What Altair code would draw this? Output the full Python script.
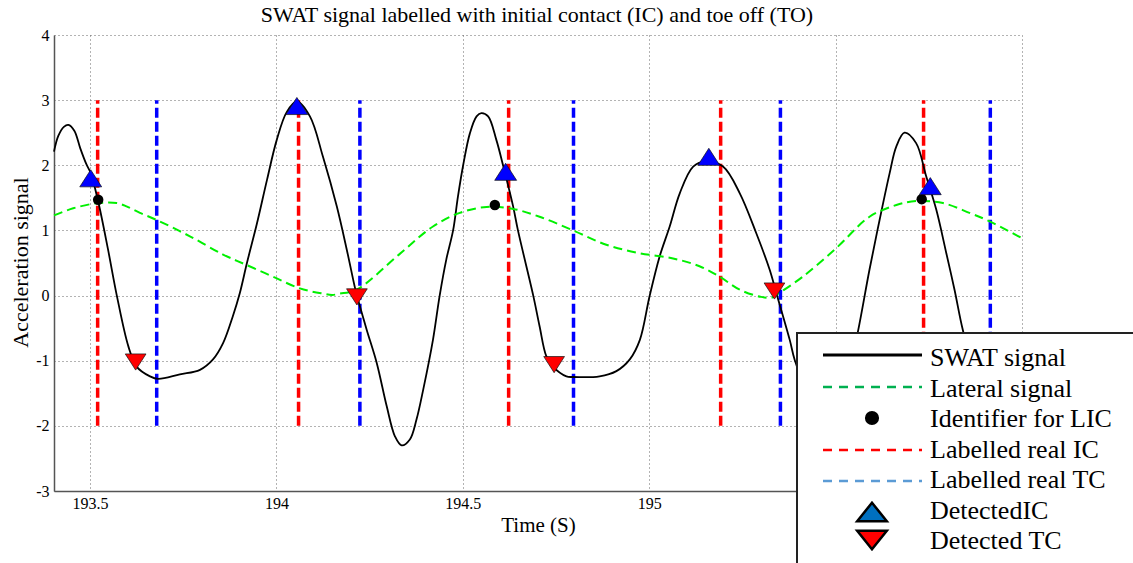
import altair as alt
import pandas as pd

# ---------------- data ----------------
swat_t = [193.4035, 193.415, 193.430, 193.442, 193.458, 193.474, 193.490, 193.502, 193.521, 193.548,
          193.572, 193.603, 193.625, 193.661, 193.683, 193.741, 193.795, 193.830, 193.857, 193.883,
          193.902, 193.921, 193.948, 193.975, 194.001, 194.028, 194.055, 194.090, 194.125, 194.162,
          194.189, 194.210, 194.216, 194.242, 194.269, 194.296, 194.318, 194.336, 194.358, 194.376,
          194.394, 194.420, 194.438, 194.456, 194.474, 194.487, 194.501, 194.519, 194.537, 194.550,
          194.568, 194.590, 194.608, 194.635, 194.648, 194.689, 194.706, 194.724, 194.742, 194.778,
          194.796, 194.867, 194.912, 194.948, 194.975, 195.001, 195.028, 195.055, 195.082, 195.118,
          195.152, 195.198, 195.243, 195.287, 195.323, 195.341, 195.377, 195.390, 195.430, 195.470,
          195.510, 195.535, 195.560, 195.591, 195.618, 195.645, 195.663, 195.685, 195.716, 195.743,
          195.770, 195.797, 195.819, 195.841, 195.870, 195.920, 195.960, 196.000]
swat_v = [2.21, 2.45, 2.59, 2.62, 2.53, 2.26, 2.02, 1.88, 1.47, 0.72,
          0.00, -0.78, -1.09, -1.24, -1.28, -1.21, -1.14, -0.98, -0.73, -0.32,
          0.04, 0.50, 1.11, 1.78, 2.39, 2.82, 2.98, 2.75, 2.13, 1.37,
          0.70, 0.14, 0.00, -0.52, -1.03, -1.70, -2.16, -2.30, -2.21, -1.90,
          -1.44, -0.68, 0.00, 0.56, 1.00, 1.52, 2.00, 2.49, 2.75, 2.80,
          2.75, 2.39, 2.00, 1.37, 1.00, 0.00, -0.47, -0.93, -1.09, -1.24,
          -1.25, -1.24, -1.16, -0.98, -0.68, -0.01, 0.60, 1.06, 1.57, 1.98,
          2.06, 1.98, 1.57, 0.96, 0.40, 0.04, -0.68, -0.98, -1.55, -1.75,
          -1.55, -1.20, -0.55, 0.40, 1.16, 1.88, 2.29, 2.50, 2.34, 1.83,
          1.32, 0.65, 0.09, -0.52, -1.10, -1.45, -1.35, -1.00]

lat_t = [193.4035, 193.455, 193.522, 193.572, 193.598, 193.634, 193.679, 193.768, 193.857, 193.920,
         193.991, 194.063, 194.125, 194.150, 194.170, 194.215, 194.331, 194.420, 194.492, 194.564,
         194.635, 194.706, 194.796, 194.885, 194.975, 195.064, 195.135, 195.189, 195.243, 195.300,
         195.330, 195.341, 195.412, 195.502, 195.591, 195.663, 195.716, 195.788, 195.859, 195.913,
         196.000]
lat_v = [1.23, 1.34, 1.42, 1.42, 1.37, 1.27, 1.16, 0.91, 0.63, 0.47,
         0.29, 0.11, 0.03, 0.01, 0.03, 0.09, 0.64, 1.06, 1.27, 1.36,
         1.33, 1.21, 1.00, 0.78, 0.65, 0.57, 0.45, 0.29, 0.09, -0.02,
         -0.03, 0.01, 0.29, 0.73, 1.21, 1.39, 1.45, 1.42, 1.27, 1.14,
         0.88]

lic_t = [193.522, 194.586, 195.731]
lic_v = [1.47, 1.39, 1.48]

real_ic_t = [193.5206, 194.0595, 194.6230, 195.1917, 195.7360]
real_tc_t = [193.6790, 194.2240, 194.7970, 195.3520, 195.9150]
label_low, label_high = -2, 3

det_ic_t = [193.502, 194.055, 194.615, 195.160, 195.754]
det_ic_v = [1.80, 2.91, 1.90, 2.13, 1.68]
det_tc_t = [193.6225, 194.2160, 194.7450, 195.3360]
det_tc_v = [-1.02, -0.02, -1.06, 0.07]

# grid at every 0.5 s; the labels of 195.5 and 196 sit behind the legend box in the reference
x_ticks = [193.5, 194, 194.5, 195, 195.5, 196]
x_labelled = [193.5, 194, 194.5, 195]
y_ticks = [-3, -2, -1, 0, 1, 2, 3, 4]
x_domain = [193.4035, 196]
y_domain = [-3, 4]

chart_title = "SWAT signal labelled with initial contact (IC) and toe off (TO)"
legend_labels = ["SWAT signal", "Lateral signal", "Identifier for LIC", "Labelled real IC",
                 "Labelled real TC", "DetectedIC", "Detected TC"]

FONT = "Liberation Serif"

# ---------------- frames ----------------
swat = pd.DataFrame({"t": swat_t, "v": swat_v})
lat = pd.DataFrame({"t": lat_t, "v": lat_v})
lic = pd.DataFrame({"t": lic_t, "v": lic_v})
ric = pd.DataFrame({"t": real_ic_t, "v": [label_low] * len(real_ic_t), "v2": [label_high] * len(real_ic_t)})
rtc = pd.DataFrame({"t": real_tc_t, "v": [label_low] * len(real_tc_t), "v2": [label_high] * len(real_tc_t)})
dic = pd.DataFrame({"t": det_ic_t, "v": det_ic_v})
dtc = pd.DataFrame({"t": det_tc_t, "v": det_tc_v})

xs = alt.Scale(domain=x_domain, nice=False, zero=False)
ys = alt.Scale(domain=y_domain, nice=False, zero=False)

x_label_expr = "indexof(" + str(x_labelled) + ", datum.value) >= 0 ? '' + datum.value : ''"

x_axis = alt.Axis(values=x_ticks, labelExpr=x_label_expr, title="Time (S)",
                  grid=True, gridDash=[1, 3], gridColor="#666", gridWidth=1,
                  ticks=False, tickSize=0, labelPadding=4, labelFont=FONT, labelFontSize=16,
                  labelColor="black", domainColor="#555", domainWidth=1.5,
                  titleFont=FONT, titleFontSize=21, titleFontWeight="normal", titleColor="black",
                  titleY=34, titleBaseline="middle")
y_axis = alt.Axis(values=y_ticks, labelExpr="'' + datum.value", title="Acceleration signal",
                  grid=True, gridDash=[1, 3], gridColor="#666", gridWidth=1,
                  ticks=False, tickSize=0, labelPadding=5, labelFont=FONT, labelFontSize=16,
                  labelColor="black", domainColor="#555", domainWidth=1.5,
                  titleFont=FONT, titleFontSize=22, titleFontWeight="normal", titleColor="black",
                  titleX=-34, titleY=227, titleAngle=270, titleAlign="center", titleBaseline="middle")

X = alt.X("t:Q", scale=xs, axis=x_axis)
Y = alt.Y("v:Q", scale=ys, axis=y_axis)

tri_up = "M0,-0.78L1,0.78L-1,0.78Z"
tri_dn = "M0,0.78L1,-0.78L-1,-0.78Z"

ic_lines = alt.Chart(ric).mark_rule(color="#ff0000", strokeWidth=3.5, strokeDash=[10, 4]).encode(
    x=X, y=Y, y2="v2:Q")
tc_lines = alt.Chart(rtc).mark_rule(color="#0000ff", strokeWidth=3.5, strokeDash=[10, 4]).encode(
    x=X, y=Y, y2="v2:Q")
swat_line = alt.Chart(swat).mark_line(color="black", strokeWidth=1.8, interpolate="catmull-rom").encode(x=X, y=Y)
lat_line = alt.Chart(lat).mark_line(color="#00f000", strokeWidth=2, strokeDash=[9, 5],
                                    interpolate="catmull-rom").encode(x=X, y=Y)
lic_pts = alt.Chart(lic).mark_point(shape="circle", filled=True, color="black", size=110, opacity=1).encode(x=X, y=Y)
dic_pts = alt.Chart(dic).mark_point(shape=tri_up, filled=True, fill="#0000ff", stroke="#111",
                                    strokeWidth=0.7, size=480, opacity=1).encode(x=X, y=Y)
dtc_pts = alt.Chart(dtc).mark_point(shape=tri_dn, filled=True, fill="#ff0000", stroke="#111",
                                    strokeWidth=0.7, size=430, opacity=1).encode(x=X, y=Y)

# ---------------- title and hand-drawn legend box (pixel layout) ----------------
one = alt.Data(values=[{"k": 0}])
title_mark = alt.Chart(one).mark_text(text=chart_title, align="center", baseline="alphabetic",
                                      font=FONT, fontSize=22, color="black").encode(
    x=alt.value(483), y=alt.value(-13))

lg_x0, lg_y0 = 743, 298
seg_x0, seg_x1, mk_x, txt_x = 769, 868, 818, 876

lg_box = alt.Chart(one).mark_rect(fill="white", stroke="#222", strokeWidth=2).encode(
    x=alt.value(lg_x0), x2=alt.value(1120), y=alt.value(lg_y0), y2=alt.value(560))
lg_text = alt.Chart(one).mark_text(text=legend_labels, align="left", baseline="middle",
                                   font=FONT, fontSize=26, lineHeight=30.5, color="black").encode(
    x=alt.value(txt_x), y=alt.value(323))


def seg(y, color, dash=None, w=2.6):
    kw = dict(color=color, strokeWidth=w)
    if dash:
        kw["strokeDash"] = dash
    return alt.Chart(one).mark_rule(**kw).encode(x=alt.value(seg_x0), x2=alt.value(seg_x1), y=alt.value(y))


lg_swat = seg(320, "black", None, 3)
lg_lat = seg(352, "#00b050", [9, 7])
lg_ic = seg(415, "#ff0000", [9, 7])
lg_tc = seg(446, "#5b9bd5", [9, 7])
lg_dot = alt.Chart(one).mark_point(shape="circle", filled=True, color="black", size=200, opacity=1).encode(
    x=alt.value(mk_x), y=alt.value(383))
lg_up = alt.Chart(one).mark_point(shape="M0,-0.63L1,0.63L-1,0.63Z", filled=True, fill="#0070c0",
                                  stroke="black", strokeWidth=2.5, size=880, opacity=1).encode(
    x=alt.value(mk_x), y=alt.value(477))
lg_dn = alt.Chart(one).mark_point(shape="M0,0.63L1,-0.63L-1,-0.63Z", filled=True, fill="#ff0000",
                                  stroke="black", strokeWidth=2.5, size=880, opacity=1).encode(
    x=alt.value(mk_x), y=alt.value(505))

chart = alt.layer(
    ic_lines, tc_lines, swat_line, lat_line, lic_pts, dic_pts, dtc_pts, title_mark,
    lg_box, lg_text, lg_swat, lg_lat, lg_ic, lg_tc, lg_dot, lg_up, lg_dn
).properties(
    width=968, height=456,
    autosize=alt.AutoSizeParams(type="none"),
    padding={"left": 54, "top": 35, "right": 111, "bottom": 72},
    background="white",
).configure_view(stroke=None).configure_axis(
    labelFont=FONT, titleFont=FONT
).configure_text(font=FONT)

chart.save("out.html", embed_options={"renderer": "svg", "actions": False})
